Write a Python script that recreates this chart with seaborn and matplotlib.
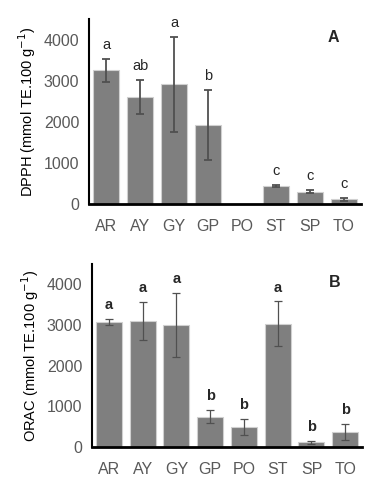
import numpy as np
import pandas as pd
import matplotlib
matplotlib.use("Agg")
import matplotlib.pyplot as plt
import seaborn as sns

# Data
samples = ["AR", "AY", "GY", "GP", "PO", "ST", "SP", "TO"]

dpph_mean = [3250, 2610, 2910, 1930, 0, 430, 300, 110]
dpph_err = [285, 410, 1150, 850, 0, 20, 30, 40]
dpph_letters = ["a", "ab", "a", "b", "", "c", "c", "c"]

orac_mean = [3080, 3090, 3010, 740, 490, 3030, 110, 370]
orac_err = [75, 470, 790, 160, 200, 550, 40, 195]
orac_letters = ["a", "a", "a", "b", "b", "a", "b", "b"]

sns.set_style("white")
plt.rcParams['font.family'] = ['Liberation Sans', 'DejaVu Sans']

fig = plt.figure(figsize=(3.76, 4.90), dpi=100)
axA = fig.add_axes([0.237, 0.584, 0.723, 0.377])
axB = fig.add_axes([0.245, 0.088, 0.718, 0.373])


def panel(ax, means, errs, letters, ylabel, tag, bold, elw, ecol):
    df = pd.DataFrame({"sample": samples, "value": means})
    sns.barplot(data=df, x="sample", y="value", color="#7f7f7f", saturation=1,
                width=0.77, edgecolor="#d0d0d0", linewidth=0.8, ax=ax, errorbar=None)
    x = np.arange(len(samples))
    m = np.array(means)
    e = np.array(errs)
    keep = m > 0
    ax.errorbar(x[keep], m[keep], yerr=e[keep], fmt="none", ecolor=ecol,
                elinewidth=elw, capsize=3, capthick=elw, zorder=3)
    for xi, yi, ei, lab in zip(x, m, e, letters):
        if lab:
            ax.annotate(lab, (xi, yi + ei), xytext=(0, 5), textcoords="offset points",
                        ha="center", va="bottom", fontsize=10.5, color="#262626",
                        fontweight="bold" if bold else "normal")
    ax.set_ylim(0, 4500)
    ax.set_xlim(-0.5, 7.5)
    ax.set_yticks([0, 1000, 2000, 3000, 4000])
    ax.set_xlabel("")
    ax.set_ylabel(ylabel, fontsize=10.5, color="black")
    ax.tick_params(axis="both", length=0, labelsize=11.5, labelcolor="#595959")
    ax.tick_params(axis="x", pad=11)
    ax.tick_params(axis="y", pad=7)
    for s in ["top", "right"]:
        ax.spines[s].set_visible(False)
    ax.spines["left"].set_linewidth(1.5)
    ax.spines["left"].set_color("black")
    ax.spines["bottom"].set_linewidth(2)
    ax.spines["bottom"].set_color("black")
    ax.text(0.9, 0.9, tag, transform=ax.transAxes, fontsize=11.5, fontweight="bold",
            ha="center", va="center")


panel(axA, dpph_mean, dpph_err, dpph_letters, "DPPH (mmol TE.100 g$^{-1}$)", "A", False, 1.3, "#505050")
panel(axB, orac_mean, orac_err, orac_letters, "ORAC (mmol TE.100 g$^{-1}$)", "B", True, 0.9, "#505050")

fig.savefig("out.png", dpi=100)
